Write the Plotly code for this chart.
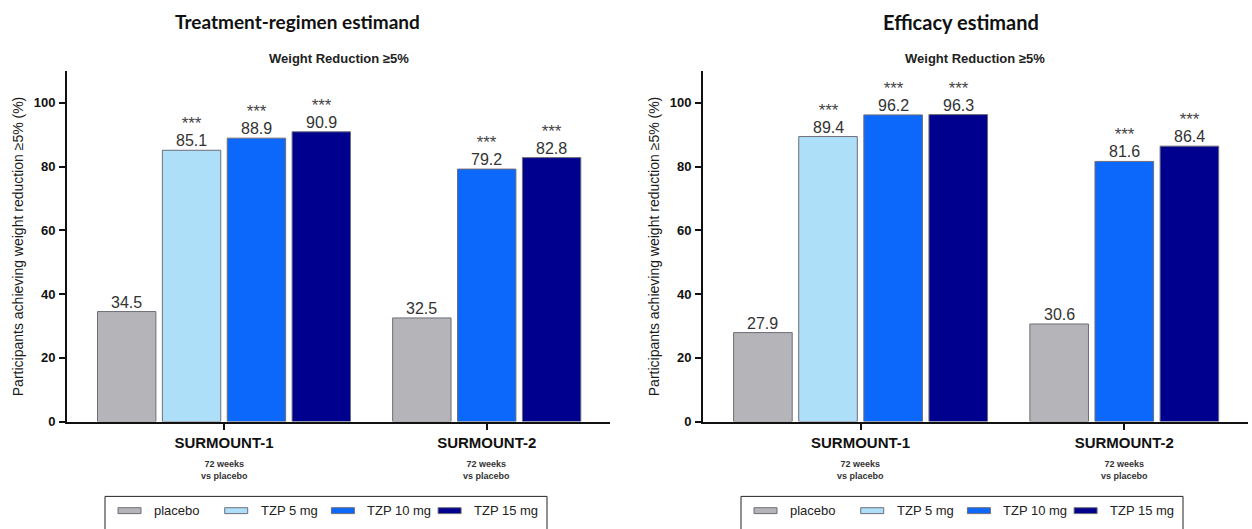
import plotly.graph_objects as go

# ---- data -------------------------------------------------------------
groups = ["SURMOUNT-1", "SURMOUNT-2"]
group_note = "72 weeks<br>vs placebo"
series = ["placebo", "TZP 5 mg", "TZP 10 mg", "TZP 15 mg"]
series_colors = ["#b5b5b9", "#ade0f8", "#0b68fb", "#00008f"]
significance = ["", "***", "***", "***"]

# Treatment-regimen estimand (% achieving >=5% weight reduction)
tr_placebo = [34.5, 32.5]
tr_tzp5 = [85.1, None]
tr_tzp10 = [88.9, 79.2]
tr_tzp15 = [90.9, 82.8]

# Efficacy estimand
ef_placebo = [27.9, 30.6]
ef_tzp5 = [89.4, None]
ef_tzp10 = [96.2, 81.6]
ef_tzp15 = [96.3, 86.4]

y_ticks = [0, 20, 40, 60, 80, 100]

panels = [
    dict(title="Treatment-regimen estimand", values=[tr_placebo, tr_tzp5, tr_tzp10, tr_tzp15]),
    dict(title="Efficacy estimand", values=[ef_placebo, ef_tzp5, ef_tzp10, ef_tzp15]),
]

# ---- layout helpers ---------------------------------------------------
W, H = 1252, 529
FONT = "Arial, Liberation Sans, sans-serif"
TITLE_FONT = "Lato, Open Sans, sans-serif"


def px(x):
    return x / W


def py(y):
    return 1 - y / H


group_centers = [0.0, 4.05]
bar_step = 1.0
bar_width = 0.9
x_range = [-2.42, 5.95]
y_range = [0, 110]

panel_offset = 636          # horizontal shift between the two panels, px
plot_left, plot_right = 67, 610
plot_top, plot_bottom = 72, 428
title_centers = [297, 961]
title_sizes = [19, 20]

fig = go.Figure()
annotations = []
shapes = []

for p, panel in enumerate(panels):
    xa = "x" if p == 0 else "x2"
    ya = "y" if p == 0 else "y2"
    dx = p * panel_offset

    # bar positions: the bars present in each group are packed around its centre
    positions = [[None] * len(groups) for _ in series]
    for g, centre in enumerate(group_centers):
        present = [s for s in range(len(series)) if panel["values"][s][g] is not None]
        for k, s in enumerate(present):
            positions[s][g] = centre + (k - (len(present) - 1) / 2) * bar_step

    for s, name in enumerate(series):
        xs, ys = [], []
        for g in range(len(groups)):
            v = panel["values"][s][g]
            if v is None:
                continue
            xs.append(positions[s][g])
            ys.append(v)
            # value label, with the significance marker on the line above it;
            # the base font size sets the spacing between the two lines
            label = f"<span style='font-size:16px'>{v:.1f}</span>"
            if significance[s]:
                label = (f"<span style='font-size:17px;color:#444444'>{significance[s]}</span>"
                         f"<br>{label}")
            annotations.append(dict(
                x=positions[s][g], y=v, xref=xa, yref=ya, text=label,
                showarrow=False, yanchor="bottom", yshift=-1,
                font=dict(family=FONT, size=13, color="#333333")))
        fig.add_trace(go.Bar(
            x=xs, y=ys, name=name, width=bar_width, xaxis=xa, yaxis=ya,
            marker=dict(color=series_colors[s], line=dict(color="#6d6d78", width=1)),
            showlegend=False, hoverinfo="x+y"))

    # panel title and subtitle
    annotations.append(dict(
        x=px(title_centers[p]), y=py(22), xref="paper", yref="paper",
        text=f"<b>{panel['title']}</b>", showarrow=False,
        xanchor="center", yanchor="middle",
        font=dict(family=TITLE_FONT, size=title_sizes[p], color="#111111")))
    annotations.append(dict(
        x=px((plot_left + plot_right) / 2 + dx), y=py(59), xref="paper", yref="paper",
        text="<b>Weight Reduction ≥5%</b>", showarrow=False,
        xanchor="center", yanchor="middle",
        font=dict(family=FONT, size=13, color="#222222")))

    # y-axis title
    annotations.append(dict(
        x=px(18 + dx), y=py((plot_top + plot_bottom) / 2), xref="paper", yref="paper",
        text="Participants achieving weight reduction ≥5% (%)", textangle=-90,
        showarrow=False, xanchor="center", yanchor="middle",
        font=dict(family=FONT, size=14, color="#1a1a1a")))

    # study notes under the group labels
    for centre in group_centers:
        annotations.append(dict(
            x=centre, y=py(464), xref=xa, yref="paper", text=f"<b>{group_note}</b>",
            showarrow=False, xanchor="center", yanchor="top",
            font=dict(family=FONT, size=9, color="#333333")))

    # legend box drawn below each panel
    box_left, box_right, box_top = 105 + dx, 547 + dx, 504
    shapes.append(dict(type="rect", xref="paper", yref="paper",
                       x0=px(box_left), x1=px(box_right), y0=py(box_top), y1=py(H + 30),
                       line=dict(color="#222222", width=1), fillcolor="rgba(0,0,0,0)"))
    for s, name in enumerate(series):
        sx = 118 + dx + s * 106.7
        shapes.append(dict(type="rect", xref="paper", yref="paper",
                           x0=px(sx), x1=px(sx + 23), y0=py(521.5), y1=py(515.5),
                           line=dict(color="#6d6d78", width=1),
                           fillcolor=series_colors[s]))
        annotations.append(dict(
            x=px(sx + 34), y=py(518.5), xref="paper", yref="paper", text=name,
            showarrow=False, xanchor="left", yanchor="middle",
            font=dict(family=FONT, size=13, color="#222222")))

axis_common = dict(showline=True, linecolor="#111111", linewidth=2,
                   showgrid=False, zeroline=False, ticks="outside",
                   tickcolor="#111111", tickwidth=2, ticklen=6)

x_ticktext = [f"<b>{g}</b>" for g in groups]
y_ticktext = [f"<b>{t}</b>" for t in y_ticks]

fig.update_layout(
    width=W, height=H,
    margin=dict(l=0, r=0, t=0, b=0),
    paper_bgcolor="white", plot_bgcolor="white",
    barmode="overlay", showlegend=False,
    xaxis=dict(domain=[px(plot_left), px(plot_right)], range=x_range,
               tickvals=group_centers, ticktext=x_ticktext,
               tickfont=dict(family=FONT, size=15, color="#111111"), **axis_common),
    xaxis2=dict(domain=[px(plot_left + panel_offset), px(plot_right + panel_offset + 2)],
                range=x_range, tickvals=group_centers, ticktext=x_ticktext,
                tickfont=dict(family=FONT, size=15, color="#111111"), **axis_common),
    yaxis=dict(domain=[py(plot_bottom), py(plot_top)], range=y_range, anchor="x",
               tickvals=y_ticks, ticktext=y_ticktext, ticklabelstandoff=1,
               tickfont=dict(family=FONT, size=13, color="#111111"), **axis_common),
    yaxis2=dict(domain=[py(plot_bottom), py(plot_top)], range=y_range, anchor="x2",
                tickvals=y_ticks, ticktext=y_ticktext, ticklabelstandoff=1,
                tickfont=dict(family=FONT, size=13, color="#111111"), **axis_common),
    annotations=annotations,
    shapes=shapes,
)

fig.write_html("out.html")
